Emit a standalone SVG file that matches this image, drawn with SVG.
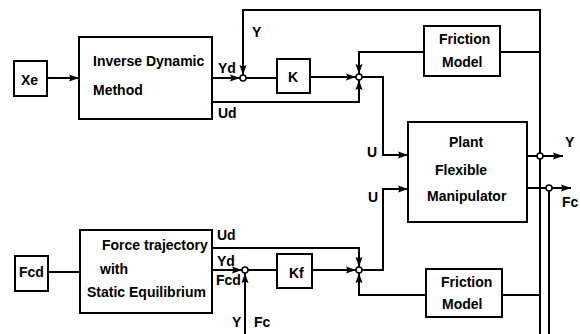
<svg xmlns="http://www.w3.org/2000/svg" width="580" height="334" viewBox="0 0 580 334">
<defs>
<marker id="ah" viewBox="0 0 10 8" refX="10" refY="4" markerWidth="10" markerHeight="8" markerUnits="userSpaceOnUse" orient="auto">
<path d="M0,0.5 L10,4 L0,7.5 L1.5,4 Z" fill="#000"/>
</marker>
<style>
.box{fill:#fff;stroke:#000;stroke-width:2}
.t{font-family:"Liberation Sans",Arial,sans-serif;font-weight:bold;font-size:14px;fill:#000}
.c{fill:none;stroke:#000;stroke-width:2}
.a{fill:none;stroke:#000;stroke-width:2;marker-end:url(#ah)}
.j{fill:#fff;stroke:#000;stroke-width:1.5}
</style>
</defs>
<rect width="580" height="334" fill="#fff"/>
<g id="connectors">
<path class="a" d="M47,78 H79"/>
<path class="a" d="M212,78 H240"/>
<path class="c" d="M246,78 H277"/>
<path class="c" d="M540,334 V10 H243 V50"/>
<path class="a" d="M243,50 V75"/>
<path class="a" d="M310,77 H356"/>
<path class="a" d="M424,52 H359 V74"/>
<path class="a" d="M212,102 H359 V80"/>
<path class="a" d="M362,77 H383 V155 H408"/>
<path class="c" d="M500,52 H540"/>
<path class="c" d="M527,156 H537"/>
<path class="a" d="M543,156 H563"/>
<path class="c" d="M527,188 H546"/>
<path class="a" d="M552,188 H571"/>
<path class="c" d="M549,191 V334"/>
<path class="a" d="M362,270 H383 V189 H408"/>
<path class="a" d="M312,270 H356"/>
<path class="a" d="M212,248 H359 V267"/>
<path class="a" d="M426,295 H359 V273"/>
<path class="c" d="M502,295 H540"/>
<path class="c" d="M48,272 H80"/>
<path class="a" d="M212,270 H242"/>
<path class="c" d="M248,270 H277"/>
<path class="a" d="M245,334 V273"/>
<circle class="j" cx="243" cy="78" r="3"/>
<circle class="j" cx="359" cy="77" r="3"/>
<circle class="j" cx="540" cy="156" r="3"/>
<circle class="j" cx="549" cy="188" r="3"/>
<circle class="j" cx="245" cy="270" r="3"/>
<circle class="j" cx="359" cy="270" r="3"/>
<text class="t" x="218" y="73">Yd</text>
<text class="t" x="252" y="37">Y</text>
<text class="t" x="218" y="118">Ud</text>
<text class="t" x="367" y="157">U</text>
<text class="t" x="368" y="202">U</text>
<text class="t" x="565" y="147">Y</text>
<text class="t" x="562" y="207">Fc</text>
<text class="t" x="217" y="240">Ud</text>
<text class="t" x="217" y="266">Yd</text>
<text class="t" x="216" y="285">Fcd</text>
<text class="t" x="232" y="327">Y</text>
<text class="t" x="254" y="327">Fc</text>
</g>
<g id="xe">
<rect class="box" x="14" y="61" width="33" height="35"/>
<text class="t" x="21" y="85" font-size="15">Xe</text>
</g>
<g id="inverse-dynamic">
<rect class="box" x="79" y="37" width="133" height="82"/>
<text class="t" x="93" y="66">Inverse Dynamic</text>
<text class="t" x="93" y="95">Method</text>
</g>
<g id="k">
<rect class="box" x="277" y="59" width="33" height="34"/>
<text class="t" x="288" y="82">K</text>
</g>
<g id="friction-top">
<rect class="box" x="424" y="26" width="76" height="50"/>
<text class="t" x="439" y="44">Friction</text>
<text class="t" x="442" y="67">Model</text>
</g>
<g id="plant">
<rect class="box" x="408" y="122" width="119" height="100"/>
<text class="t" x="449" y="147">Plant</text>
<text class="t" x="435" y="175">Flexible</text>
<text class="t" x="427" y="201">Manipulator</text>
</g>
<g id="fcd">
<rect class="box" x="15" y="256" width="33" height="35"/>
<text class="t" x="19" y="277">Fcd</text>
</g>
<g id="force-trajectory">
<rect class="box" x="80" y="230" width="132" height="83"/>
<text class="t" x="102" y="250">Force trajectory</text>
<text class="t" x="100" y="274">with</text>
<text class="t" x="87" y="297">Static Equilibrium</text>
</g>
<g id="kf">
<rect class="box" x="277" y="254" width="35" height="34"/>
<text class="t" x="289" y="278">Kf</text>
</g>
<g id="friction-bottom">
<rect class="box" x="426" y="269" width="76" height="48"/>
<text class="t" x="441" y="287">Friction</text>
<text class="t" x="442" y="309">Model</text>
</g>
</svg>
